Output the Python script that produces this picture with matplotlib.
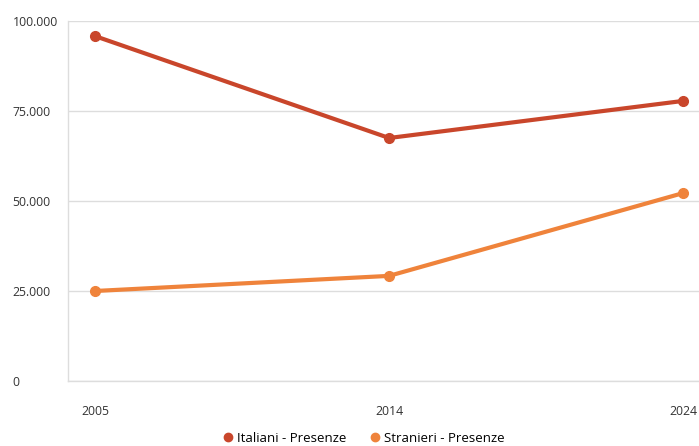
import matplotlib.pyplot as plt
from matplotlib.ticker import FuncFormatter
from matplotlib.lines import Line2D

plt.rcParams['font.family'] = ['Open Sans', 'DejaVu Sans']

years = ['2005', '2014', '2024']
italiani = [95800, 67500, 77800]
stranieri = [25000, 29200, 52200]
yticks = [0, 25000, 50000, 75000, 100000]

col_it = '#c9462b'
col_st = '#ef833b'

W, H = 699, 446
fig = plt.figure(figsize=(W / 100, H / 100), dpi=100)
ax = fig.add_axes([68 / W, (H - 381) / H, (W - 68) / W, 360 / H])

x = list(range(len(years)))
ax.plot(x, italiani, color=col_it, lw=3, marker='o', ms=7, solid_capstyle='round', zorder=3)
ax.plot(x, stranieri, color=col_st, lw=3, marker='o', ms=7, solid_capstyle='round', zorder=3)

ax.set_xlim(-0.092, 2.054)
ax.set_ylim(0, 100000)
ax.set_xticks(x)
ax.set_xticklabels(years)
ax.set_yticks(yticks)
ax.yaxis.set_major_formatter(FuncFormatter(lambda v, p: f'{int(v):,}'.replace(',', '.')))

ax.grid(axis='y', color='#dddddd', lw=1)
ax.set_axisbelow(True)
for s in ['top', 'right']:
    ax.spines[s].set_visible(False)
for s in ['left', 'bottom']:
    ax.spines[s].set_color('#dddddd')
    ax.spines[s].set_linewidth(1)

ax.tick_params(axis='both', length=0, labelsize=8.8, colors='#333333')
ax.tick_params(axis='y', pad=40)
ax.tick_params(axis='x', pad=17)
for lab in ax.get_yticklabels():
    lab.set_horizontalalignment('left')

handles = [Line2D([], [], color=col_it, marker='o', ls='none', ms=6),
           Line2D([], [], color=col_st, marker='o', ls='none', ms=6)]
fig.legend(handles, ['Italiani - Presenze', 'Stranieri - Presenze'], loc='center',
           bbox_to_anchor=(363 / W, 1 - 438 / H), ncol=2, frameon=False, fontsize=9.5,
           handletextpad=0.2, columnspacing=1.6, handlelength=1.0)

fig.savefig('out.png', dpi=100)
